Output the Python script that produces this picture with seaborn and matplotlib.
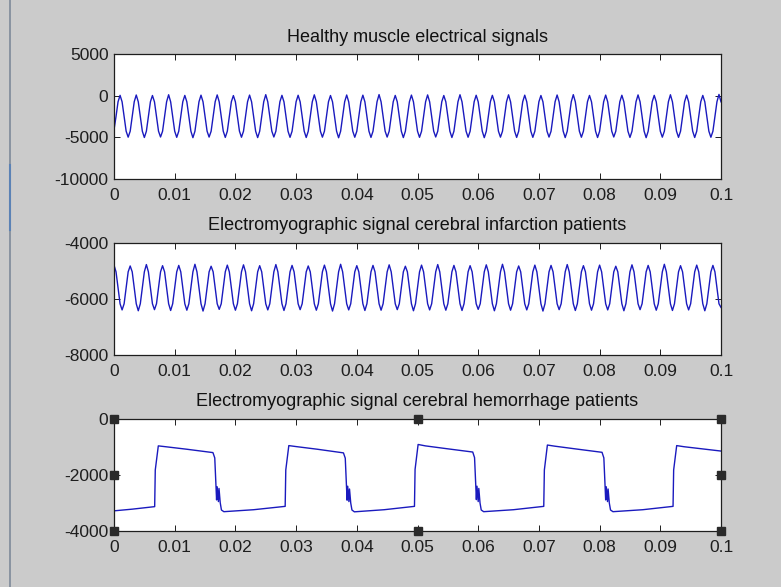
import numpy as np
import seaborn as sns
import matplotlib.pyplot as plt
from matplotlib.lines import Line2D

# time axis ticks shared by the three panels
x_ticks = [0, 0.01, 0.02, 0.03, 0.04, 0.05, 0.06, 0.07, 0.08, 0.09, 0.1]
x_tick_labels = ["0", "0.01", "0.02", "0.03", "0.04", "0.05", "0.06", "0.07", "0.08", "0.09", "0.1"]

titles = ["Healthy muscle electrical signals",
          "Electromyographic signal cerebral infarction patients",
          "Electromyographic signal cerebral hemorrhage patients"]

y_ticks_healthy = [-10000, -5000, 0, 5000]
y_ticks_infarction = [-8000, -6000, -4000]
y_ticks_hemorrhage = [-4000, -2000, 0]

# healthy muscle, sampled evenly over 0..0.1 s (one row ~ one cycle)
healthy = [
    -4100, -2500, -730, 40, -740, -2510, -4260, -4980,
    -4270, -2500, -730, 80, -740, -2510, -4260, -5020,
    -4270, -2500, -730, 20, -740, -2510, -4260, -4960,
    -4270, -2500, -730, 110, -740, -2510, -4260, -5000,
    -4270, -2500, -730, 30, -740, -2510, -4260, -5040,
    -4270, -2500, -730, 60, -740, -2510, -4260, -4970,
    -4270, -2500, -730, 90, -740, -2510, -4260, -5010,
    -4270, -2500, -730, 10, -740, -2510, -4260, -4990,
    -4270, -2500, -730, 70, -740, -2510, -4260, -5030,
    -4270, -2500, -730, 120, -740, -2510, -4260, -4960,
    -4270, -2500, -730, 40, -740, -2510, -4260, -5000,
    -4270, -2500, -730, 50, -740, -2510, -4260, -5020,
    -4270, -2500, -730, 100, -740, -2510, -4260, -4980,
    -4270, -2500, -730, 20, -740, -2510, -4260, -5050,
    -4270, -2500, -730, 80, -740, -2510, -4260, -4990,
    -4270, -2500, -730, 60, -740, -2510, -4260, -5010,
    -4270, -2500, -730, 130, -740, -2510, -4260, -4970,
    -4270, -2500, -730, 30, -740, -2510, -4260, -5030,
    -4270, -2500, -730, 70, -740, -2510, -4260, -5000,
    -4270, -2500, -730, 90, -740, -2510, -4260, -4960,
    -4270, -2500, -730, 20, -740, -2510, -4260, -5020,
    -4270, -2500, -730, 110, -740, -2510, -4260, -4990,
    -4270, -2500, -730, 50, -740, -2510, -4260, -5040,
    -4270, -2500, -730, 40, -740, -2510, -4260, -4980,
    -4270, -2500, -730, 100, -740, -2510, -4260, -5010,
    -4270, -2500, -730, 60, -740, -2510, -4260, -5000,
    -4270, -2500, -730, 20, -740, -2510, -4260, -4970,
    -4270, -2500, -730, 80, -740, -2510, -4260, -5030,
    -4270, -2500, -730, 120, -740, -2510, -4260, -4990,
    -4270, -2500, -730, 30, -740, -2510, -4260, -5020,
    -4270, -2500, -730, 70, -740, -2510, -4260, -4960,
    -4270, -2500, -730, 50, -740, -2510, -4260, -5010,
    -4270, -2500, -730, 90, -740, -2510, -4260, -5040,
    -4270, -2500, -730, 40, -740, -2510, -4260, -4980,
    -4270, -2500, -730, 110, -740, -2510, -4260, -5000,
    -4270, -2500, -730, 60, -740, -2510, -4260, -5020,
    -4270, -2500, -730, 30, -740, -2510, -4260, -4990,
    -4270, -2500, -730, 150, -740,
]

# cerebral infarction, sampled evenly over 0..0.1 s
infarction = [
    -4790, -5030, -5600, -6170, -6390, -6170, -5600, -5030,
    -4820, -5030, -5600, -6170, -6420, -6170, -5600, -5030,
    -4770, -5030, -5600, -6170, -6380, -6170, -5600, -5030,
    -4810, -5030, -5600, -6170, -6410, -6170, -5600, -5030,
    -4800, -5030, -5600, -6170, -6400, -6170, -5600, -5030,
    -4760, -5030, -5600, -6170, -6430, -6170, -5600, -5030,
    -4830, -5030, -5600, -6170, -6370, -6170, -5600, -5030,
    -4790, -5030, -5600, -6170, -6400, -6170, -5600, -5030,
    -4780, -5030, -5600, -6170, -6420, -6170, -5600, -5030,
    -4810, -5030, -5600, -6170, -6390, -6170, -5600, -5030,
    -4770, -5030, -5600, -6170, -6410, -6170, -5600, -5030,
    -4800, -5030, -5600, -6170, -6380, -6170, -5600, -5030,
    -4820, -5030, -5600, -6170, -6400, -6170, -5600, -5030,
    -4790, -5030, -5600, -6170, -6430, -6170, -5600, -5030,
    -4760, -5030, -5600, -6170, -6390, -6170, -5600, -5030,
    -4810, -5030, -5600, -6170, -6410, -6170, -5600, -5030,
    -4800, -5030, -5600, -6170, -6400, -6170, -5600, -5030,
    -4780, -5030, -5600, -6170, -6380, -6170, -5600, -5030,
    -4830, -5030, -5600, -6170, -6420, -6170, -5600, -5030,
    -4790, -5030, -5600, -6170, -6390, -6170, -5600, -5030,
    -4770, -5030, -5600, -6170, -6400, -6170, -5600, -5030,
    -4800, -5030, -5600, -6170, -6410, -6170, -5600, -5030,
    -4810, -5030, -5600, -6170, -6370, -6170, -5600, -5030,
    -4780, -5030, -5600, -6170, -6420, -6170, -5600, -5030,
    -4760, -5030, -5600, -6170, -6400, -6170, -5600, -5030,
    -4820, -5030, -5600, -6170, -6390, -6170, -5600, -5030,
    -4790, -5030, -5600, -6170, -6430, -6170, -5600, -5030,
    -4800, -5030, -5600, -6170, -6380, -6170, -5600, -5030,
    -4770, -5030, -5600, -6170, -6410, -6170, -5600, -5030,
    -4810, -5030, -5600, -6170, -6400, -6170, -5600, -5030,
    -4790, -5030, -5600, -6170, -6390, -6170, -5600, -5030,
    -4830, -5030, -5600, -6170, -6420, -6170, -5600, -5030,
    -4780, -5030, -5600, -6170, -6380, -6170, -5600, -5030,
    -4800, -5030, -5600, -6170, -6400, -6170, -5600, -5030,
    -4760, -5030, -5600, -6170, -6410, -6170, -5600, -5030,
    -4810, -5030, -5600, -6170, -6390, -6170, -5600, -5030,
    -4790, -5030, -5600, -6170, -6420, -6170, -5600, -5030,
    -4800, -5030, -5600, -6170, -6300,
]

# cerebral hemorrhage: breakpoints
hemorrhage_t = [
    0.0000, 0.0030, 0.0067,
    0.0068, 0.0073, 0.0085, 0.0120, 0.0163, 0.0166, 0.0169, 0.0170, 0.0172, 0.0173, 0.0175, 0.0177, 0.0181, 0.0230, 0.0282,
    0.0283, 0.0288, 0.0300, 0.0335, 0.0378, 0.0381, 0.0384, 0.0385, 0.0387, 0.0388, 0.0390, 0.0392, 0.0396, 0.0445, 0.0495,
    0.0496, 0.0501, 0.0513, 0.0548, 0.0591, 0.0594, 0.0597, 0.0598, 0.0600, 0.0601, 0.0603, 0.0605, 0.0609, 0.0658, 0.0708,
    0.0709, 0.0714, 0.0726, 0.0761, 0.0804, 0.0807, 0.0810, 0.0811, 0.0813, 0.0814, 0.0816, 0.0818, 0.0822, 0.0871, 0.0921,
    0.0922, 0.0927, 0.0939, 0.1000,
]
hemorrhage_v = [
    -3280, -3220, -3130,
    -1820, -960, -990, -1080, -1200, -1390, -2890, -2420, -2950, -2480, -2990, -3250, -3310, -3240, -3120,
    -1820, -950, -985, -1080, -1210, -1400, -2900, -2400, -2950, -2500, -3000, -3250, -3315, -3240, -3120,
    -1800, -910, -960, -1060, -1180, -1380, -2880, -2400, -2950, -2480, -3000, -3250, -3310, -3240, -3120,
    -1820, -930, -970, -1070, -1190, -1390, -2890, -2420, -2950, -2500, -3000, -3250, -3310, -3240, -3120,
    -1820, -950, -990, -1145,
]

plt.rcParams["font.family"] = ["Liberation Sans", "DejaVu Sans"]

bg = "#cbcbcb"
line_color = "#1a1abe"
ink = "#1e1e1e"

fig = plt.figure(figsize=(7.81, 5.87), dpi=100, facecolor=bg)

# axes boxes in figure fractions (left, bottom, width, height)
boxes = [
    [114 / 781, 1 - 179 / 587, 607 / 781, 125 / 587],
    [114 / 781, 1 - 355 / 587, 607 / 781, 112 / 587],
    [114 / 781, 1 - 531 / 587, 607 / 781, 112 / 587],
]

series = [
    (np.linspace(0, 0.1, len(healthy)), healthy, y_ticks_healthy),
    (np.linspace(0, 0.1, len(infarction)), infarction, y_ticks_infarction),
    (np.array(hemorrhage_t), hemorrhage_v, y_ticks_hemorrhage),
]

axes = []
for box, (t, v, yt), title in zip(boxes, series, titles):
    ax = fig.add_axes(box)
    ax.set_facecolor("white")
    sns.lineplot(x=t, y=v, ax=ax, color=line_color, linewidth=1.0,
                 estimator=None, sort=False)
    ax.set_xlim(0, 0.1)
    ax.set_ylim(yt[0], yt[-1])
    ax.set_xticks(x_ticks)
    ax.set_xticklabels(x_tick_labels)
    ax.set_yticks(yt)
    ax.set_yticklabels([str(y) for y in yt])
    ax.tick_params(direction="in", length=4.3, width=0.7, top=True, right=True,
                   labelsize=12.5, colors=ink, labelcolor=ink)
    ax.tick_params(axis="x", pad=6.5)
    ax.tick_params(axis="y", pad=4)
    for s in ax.spines.values():
        s.set_color(ink)
        s.set_linewidth(0.9)
    ax.set_title(title, fontsize=13, color="#111111", pad=9)
    axes.append(ax)

# selection handles around the last (selected) axes
ax3 = axes[2]
hx = [0, 0.05, 0.1, 0, 0.1, 0, 0.05, 0.1]
hy = [0, 0, 0, -2000, -2000, -4000, -4000, -4000]
ax3.plot(hx, hy, linestyle="none", marker="s", markersize=5.5,
         color="#2a2a2a", clip_on=False, zorder=10)

# window border on the left
fig.add_artist(Line2D([9.5 / 781, 9.5 / 781], [0, 1], transform=fig.transFigure,
                      color="#7d8a99", linewidth=1.2))
fig.add_artist(Line2D([9.5 / 781, 9.5 / 781], [1 - 230 / 587, 1 - 165 / 587],
                      transform=fig.transFigure, color="#5b82b5", linewidth=1.5))

fig.savefig("out.png", dpi=100, facecolor=bg)
